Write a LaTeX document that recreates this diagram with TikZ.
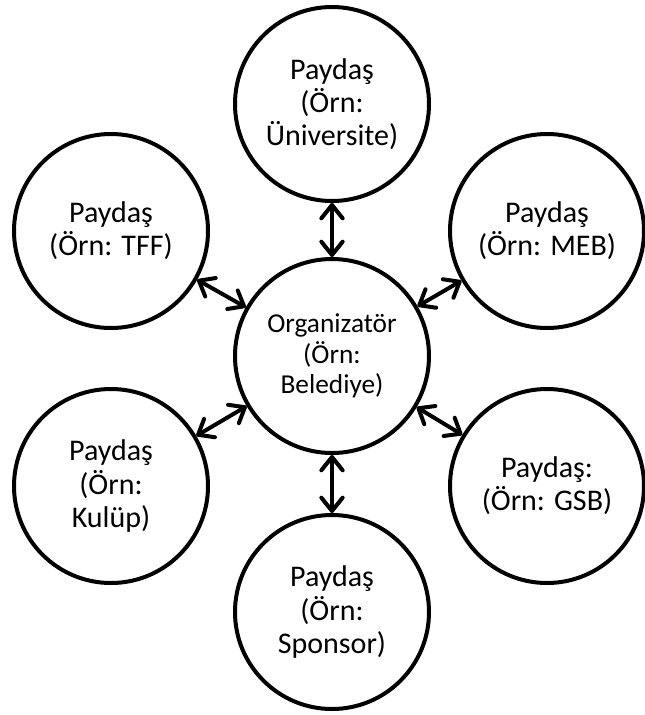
\documentclass[tikz,border=0pt]{standalone}
\usepackage{fontspec}
\setmainfont{Carlito}
\usetikzlibrary{arrows.meta}
\tikzset{
  paydas/.style={circle,draw,line width=3pt,minimum size=145.5pt,inner sep=0pt,align=center,
    font=\fontsize{22.5}{24.9}\selectfont},
  orgnode/.style={paydas,font=\fontsize{20.5}{22.7}\selectfont},
  iki/.style={{Straight Barb[length=10pt,width=16pt,round]}-{Straight Barb[length=10pt,width=16pt,round]},
    line width=3pt}
}
\begin{document}
\begin{tikzpicture}[x=0.75pt,y=0.75pt,yscale=-1,xscale=1]
            \useasboundingbox (0,0) rectangle (645,715);
            \node[orgnode] (org) at (332,356) {Organizatör\\(Örn:\\Belediye)};
            \node[paydas] (uni) at (332,104) {Paydaş\\(Örn:\\Üniversite)};
            \node[paydas] (tff) at (111,231) {Paydaş\\(Örn: TFF)};
            \node[paydas] (meb) at (547,231) {Paydaş\\(Örn: MEB)};
            \node[paydas] (kulup) at (111,486) {Paydaş\\(Örn:\\Kulüp)};
            \node[paydas] (gsb) at (547,486) {Paydaş:\\(Örn: GSB)};
            \node[paydas] (sponsor) at (332,612) {Paydaş\\(Örn:\\Sponsor)};
            % oklar
            \draw[iki] (uni) -- (org);
            \draw[iki] (tff) -- (org);
            \draw[iki] (meb) -- (org);
            \draw[iki] (kulup) -- (org);
            \draw[iki] (gsb) -- (org);
            \draw[iki] (sponsor) -- (org);
        \end{tikzpicture}
\end{document}
